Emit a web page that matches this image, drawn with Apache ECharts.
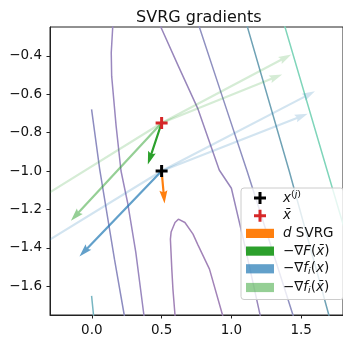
<!DOCTYPE html>
<html><head><meta charset="utf-8">
<script src="https://cdn.jsdelivr.net/npm/echarts@6/dist/echarts.min.js"></script>
<style>html,body{margin:0;padding:0;background:#fff}#c{width:343px;height:337px}</style>
</head><body><div id="c"></div>
<script>
// ---- data ----
const titleText = 'SVRG gradients';
const xTicks = [0.0, 0.5, 1.0, 1.5];
const yTicks = [-1.6, -1.4, -1.2, -1.0, -0.8, -0.6, -0.4];

// contour lines
const contourA = [[0.16,-0.20],[0.150,-0.245],[0.139,-0.384],[0.142,-0.506],[0.174,-0.766],[0.209,-1.0],[0.256,-1.164],[0.315,-1.424],[0.373,-1.75],[0.38,-1.80]];
const contourB = [[-0.002,-0.679],[0.056,-0.99],[0.162,-1.459],[0.232,-1.75],[0.24,-1.80]];
const contourC = [[-0.002,-1.65],[0.012,-1.751],[0.02,-1.80]];
const contourD = [[0.47,-0.15],[0.491,-0.245],[0.620,-0.454],[0.761,-0.678],[0.913,-0.995],[1.0,-1.09],[1.10,-1.40],[1.206,-1.751],[1.22,-1.80]];
const contourE = [[0.60,-1.80],[0.596,-1.751],[0.581,-1.615],[0.573,-1.511],[0.563,-1.355],[0.568,-1.318],[0.596,-1.268],[0.620,-1.251],[0.667,-1.268],[0.725,-1.329],[0.761,-1.386],[0.843,-1.511],[0.937,-1.751],[0.95,-1.80]];
const contourF = [[0.75,-0.15],[0.768,-0.245],[0.940,-0.623],[1.113,-1.001],[1.442,-1.751],[1.46,-1.80]];
const contourG = [[1.10,-0.15],[1.113,-0.245],[1.415,-1.001],[1.699,-1.751],[1.72,-1.80]];
const contourH = [[1.37,-0.15],[1.382,-0.245],[1.688,-1.001],[1.993,-1.751]];

// points
const xj = [0.5, -1.0];
const xbar = [0.5, -0.75];

// arrows [x0, y0, x1, y1]
const arrowDSvrg = [[0.5, -1.0, 0.521, -1.169]];
const arrowGradF = [[0.5, -0.75, 0.401, -0.966]];
const arrowGradFiX = [[0.5, -1.0, -0.089, -1.445]];
const arrowGradFiXbar = [[0.5, -0.75, -0.150, -1.259]];
const faintGradXbar = [[0.5, -0.75, 1.43, -0.393],[0.5, -0.75, 1.364, -0.497],[0.5, -0.75, -0.55, -1.223]];
const faintGradX = [[0.5, -1.0, 1.599, -0.585],[0.5, -1.0, 1.547, -0.702],[0.5, -1.0, -0.55, -1.468]];

// ---- rendering ----
const FONT = 'DejaVu Sans';
const minus = v => (v < 0 ? '\u2212' : '') + Math.abs(v).toFixed(1);
const ARROW = {shaft: 2.2, headW: 8, headL: 13, headAL: 11.5};

function renderArrow(params, api) {
  const p0 = api.coord([api.value(0), api.value(1)]);
  const p1 = api.coord([api.value(2), api.value(3)]);
  const dx = p1[0]-p0[0], dy = p1[1]-p0[1];
  const L = Math.hypot(dx, dy);
  const ux = dx/L, uy = dy/L, nx = -uy, ny = ux;
  const w = ARROW.shaft/2, hw = ARROW.headW/2;
  const P = (a, b) => [p0[0] + ux*a + nx*b, p0[1] + uy*a + ny*b];
  const pts = [P(0,w), P(L-ARROW.headAL,w), P(L-ARROW.headL,hw), [p1[0],p1[1]],
               P(L-ARROW.headL,-hw), P(L-ARROW.headAL,-w), P(0,-w)];
  const cs = params.coordSys;
  return {type:'group', clipPath:{type:'rect', shape:{x:cs.x, y:cs.y, width:cs.width, height:cs.height}},
    children:[{type:'polygon', shape:{points:pts}, style:{fill: api.visual('color')}}]};
}
function arrowSeries(name, data, color, z) {
  return {name, type:'custom', renderItem: renderArrow, data, itemStyle:{color},
    encode:{x:[0,2], y:[1,3]}, z, silent:true, animation:false};
}
function contour(data, color) {
  return {type:'line', data, showSymbol:false, symbol:'none', smooth:false, silent:true,
    lineStyle:{color, width:1.5}, z:1, clip:true, animation:false};
}
const plusPath = 'path://M4.5,0H7.5V4.5H12V7.5H7.5V12H4.5V7.5H0V4.5H4.5Z';
const legendPlus = 'path://M0,0M12.5,0H15.5V4.5H20V7.5H15.5V12H12.5V7.5H8V4.5H12.5ZM28,12';
const legendRect = 'path://M0,0M0,1.4H28V10.6H0ZM28,12';

const labels = {
  xj: '{it|x}{sup|(}{supit|j}{sup|)}',
  xbar: '{it|x\u0304}',
  dsvrg: '{it|d}{n| SVRG}',
  gradF: '{n|\u2212\u2207}{it|F}{n|(}{it|x\u0304}{n|)}',
  gradfiX: '{n|\u2212\u2207}{it|f}{sub|i}{n|(}{it|x}{n|)}',
  gradfiXbar: '{n|\u2212\u2207}{it|f}{sub|i}{n|(}{it|x\u0304}{n|)}'
};

const chart = echarts.init(document.getElementById('c'), null, {renderer:'canvas'});
chart.setOption({
  animation:false,
  backgroundColor:'#fff',
  title:{text:titleText, left:193.8, top:5, textAlign:'center',
    textStyle:{fontFamily:FONT, fontSize:16, fontWeight:'normal', color:'#111'}},
  grid:{left:50, top:27, right:-4.6, bottom:21, show:true, borderColor:'#222', borderWidth:1, containLabel:false},
  xAxis:{type:'value', min:-0.3, max:1.8,
    axisLine:{show:true, onZero:false, lineStyle:{color:'#222', width:1}},
    axisTick:{show:true, length:3.5, customValues:xTicks, lineStyle:{color:'#222', width:1}},
    axisLabel:{customValues:xTicks, formatter:minus, margin:8, fontFamily:FONT, fontSize:13.5, color:'#111'},
    splitLine:{show:false}},
  yAxis:{type:'value', min:-1.75, max:-0.25,
    axisLine:{show:true, onZero:false, lineStyle:{color:'#222', width:1}},
    axisTick:{show:true, length:3.5, customValues:yTicks, lineStyle:{color:'#222', width:1}},
    axisLabel:{customValues:yTicks, formatter:minus, margin:8, fontFamily:FONT, fontSize:13.5, color:'#111'},
    splitLine:{show:false}},
  legend:{orient:'vertical', left:241, top:188, itemWidth:28, itemHeight:12, itemGap:3.7,
    padding:[2,10,4,5], backgroundColor:'rgba(255,255,255,0.8)', borderColor:'#cccccc', borderWidth:1, borderRadius:3,
    selectedMode:false,
    data:[{name:'xj', icon:legendPlus},{name:'xbar', icon:legendPlus},{name:'dsvrg', icon:legendRect},
          {name:'gradF', icon:legendRect},{name:'gradfiX', icon:legendRect},{name:'gradfiXbar', icon:legendRect}],
    formatter: n => labels[n],
    textStyle:{padding:[0,0,0,4], rich:{
      n:{fontFamily:FONT, fontSize:13.5, lineHeight:16, color:'#111'},
      it:{fontFamily:FONT, fontStyle:'italic', fontSize:13.5, lineHeight:16, color:'#111'},
      sup:{fontFamily:FONT, fontSize:9.5, lineHeight:6, verticalAlign:'top', color:'#111'},
      supit:{fontFamily:FONT, fontStyle:'italic', fontSize:9.5, lineHeight:6, verticalAlign:'top', color:'#111'},
      sub:{fontFamily:FONT, fontStyle:'italic', fontSize:9.5, lineHeight:8, verticalAlign:'bottom', color:'#111'}
    }}},
  series:[
    contour(contourA, '#9a88bf'),
    contour(contourB, '#8d8cc0'),
    contour(contourC, '#78b6c2'),
    contour(contourD, '#9886bb'),
    contour(contourE, '#a283b8'),
    contour(contourF, '#8f90c0'),
    contour(contourG, '#6fa2b5'),
    contour(contourH, '#7fd5ba'),
    arrowSeries('faintXbar', faintGradXbar, 'rgba(44,160,44,0.2)', 2),
    arrowSeries('faintX', faintGradX, 'rgba(31,119,180,0.2)', 2),
    arrowSeries('gradfiXbar', arrowGradFiXbar, 'rgba(44,160,44,0.5)', 3),
    arrowSeries('gradfiX', arrowGradFiX, 'rgba(31,119,180,0.7)', 3),
    arrowSeries('gradF', arrowGradF, '#2ca02c', 3),
    arrowSeries('dsvrg', arrowDSvrg, '#ff7f0e', 3),
    {name:'xj', type:'scatter', data:[xj], symbol:plusPath, symbolSize:12, itemStyle:{color:'#000', opacity:1}, z:5, silent:true},
    {name:'xbar', type:'scatter', data:[xbar], symbol:plusPath, symbolSize:12, itemStyle:{color:'#d62728', opacity:1}, z:5, silent:true}
  ]
});
</script></body></html>
